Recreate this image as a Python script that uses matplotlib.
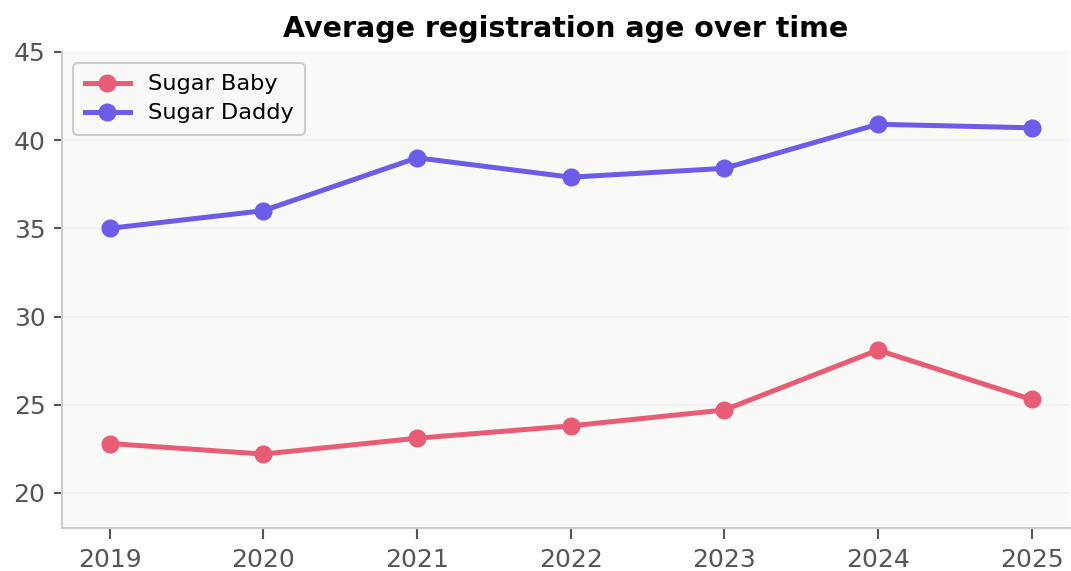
import matplotlib.pyplot as plt

years = [2019, 2020, 2021, 2022, 2023, 2024, 2025]
sugar_baby = [22.8, 22.2, 23.1, 23.8, 24.7, 28.1, 25.3]
sugar_daddy = [35.0, 36.0, 39.0, 37.9, 38.4, 40.9, 40.7]

fig = plt.figure(figsize=(10.71, 5.71), dpi=100)
ax = fig.add_axes([0.058, 0.075, 0.941, 0.834])
ax.set_facecolor('#f9f9f7')

ax.plot(years, sugar_baby, color='#e85d75', lw=3.6, marker='o', ms=12, label='Sugar Baby')
ax.plot(years, sugar_daddy, color='#6c5ce7', lw=3.6, marker='o', ms=12, label='Sugar Daddy')

ax.set_xlim(2018.69, 2025.25)
ax.set_ylim(18, 45)
ax.set_xticks(years)
ax.set_yticks([20, 25, 30, 35, 40, 45])

# faint horizontal grid only
ax.grid(axis='y', color='#f1f1ef', lw=1.2)
ax.set_axisbelow(True)

for s in ['top', 'right']:
    ax.spines[s].set_visible(False)
for s in ['left', 'bottom']:
    ax.spines[s].set_color('#cccccc')
    ax.spines[s].set_linewidth(1.5)

ax.tick_params(axis='both', colors='#555555', labelsize=18, width=1.5)
ax.tick_params(axis='x', length=8, pad=6)
ax.tick_params(axis='y', length=6, pad=6)

ax.set_title('Average registration age over time', fontsize=20.5, fontweight='bold', pad=11)

leg = ax.legend(loc='upper left', fontsize=16.2, frameon=True, fancybox=True,
                borderpad=0.5, handlelength=2.0, labelspacing=0.4)
leg.get_frame().set_edgecolor('#cccccc')
leg.get_frame().set_facecolor('#f9f9f7')
leg.get_frame().set_linewidth(1.5)
leg.get_frame().set_alpha(1)

fig.savefig('out.png', dpi=100)
